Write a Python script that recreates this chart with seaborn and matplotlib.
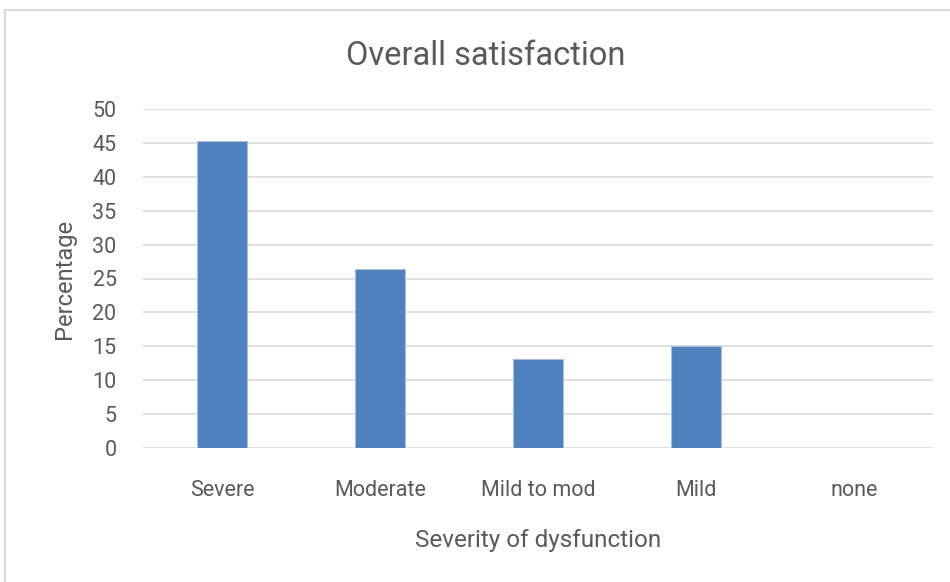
import matplotlib
matplotlib.use("Agg")
import matplotlib.pyplot as plt
import seaborn as sns
import pandas as pd
from matplotlib.patches import Rectangle

# Survey results: share of patients reporting overall satisfaction
categories = ["Severe", "Moderate", "Mild to mod", "Mild", "none"]
percentages = [45.3, 26.4, 13.2, 15.1, 0.0]
y_ticks = [0, 5, 10, 15, 20, 25, 30, 35, 40, 45, 50]

df = pd.DataFrame({"severity": categories, "pct": percentages})

sns.set_theme(style="white")
plt.rcParams["font.family"] = ["Roboto", "DejaVu Sans"]

text_color = "#595959"
grid_color = "#D9D9D9"
bar_color = "#4F81BD"

fig = plt.figure(figsize=(9.5, 5.82), dpi=100)
ax = fig.add_axes([143 / 950, 1 - 448 / 582, (933 - 143) / 950, (448 - 109) / 582])

sns.barplot(data=df, x="severity", y="pct", order=categories, color=bar_color,
            saturation=1, width=0.316, edgecolor="#A7BDDB", linewidth=0.8, ax=ax, zorder=3)

ax.set_ylim(0, 50)
ax.set_xlim(-0.5, len(categories) - 0.5)
ax.set_yticks(y_ticks)
ax.yaxis.grid(True, color=grid_color, linewidth=1.2, zorder=0)
ax.set_axisbelow(True)
for s in ax.spines.values():
    s.set_visible(False)
ax.tick_params(axis="both", length=0, colors=text_color, labelsize=15.5)
ax.tick_params(axis="x", pad=23)
ax.tick_params(axis="y", pad=19)

ax.set_xlabel("Severity of dysfunction", fontsize=17.5, color=text_color, labelpad=20)
ax.set_ylabel("Percentage", fontsize=17, color=text_color, labelpad=12)
fig.text(486 / 950, 1 - 56 / 582, "Overall satisfaction", ha="center", va="center",
         fontsize=23.5, color=text_color)

# chart frame
fig.patches.append(Rectangle((5 / 950, -0.01), 1.0, 1 - 10 / 582 + 0.01,
                             transform=fig.transFigure, fill=False,
                             edgecolor=grid_color, linewidth=1.5))

fig.savefig("out.png", dpi=100)
